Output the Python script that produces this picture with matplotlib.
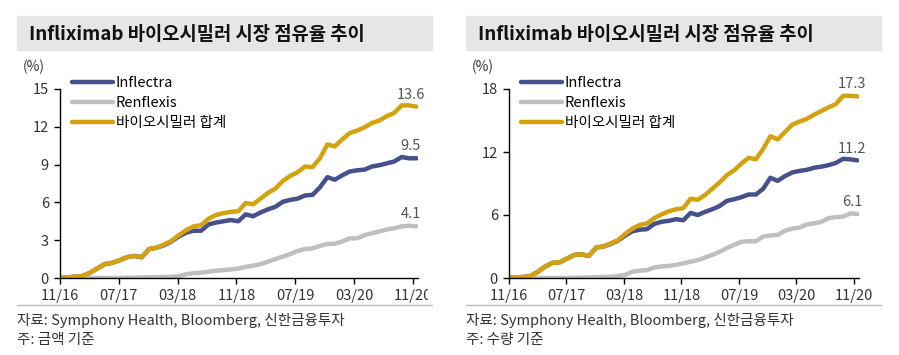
import matplotlib

matplotlib.use("Agg")
import matplotlib.pyplot as plt
import numpy as np
from matplotlib.transforms import Bbox, TransformedBbox

plt.rcParams["font.family"] = ["Noto Sans CJK KR", "DejaVu Sans"]

TITLE = "Infliximab 바이오시밀러 시장 점유율 추이"
SERIES = ["Inflectra", "Renflexis", "바이오시밀러 합계"]
XTICK_LABELS = ["11/16", "07/17", "03/18", "11/18", "07/19", "03/20", "11/20"]
SOURCE = "자료: Symphony Health, Bloomberg, 신한금융투자"
NOTES = ["주: 금액 기준", "주: 수량 기준"]

# monthly readings, 11/16 .. 11/20 (49 points)
value_inflectra = [0.0, 0.05, 0.1, 0.15, 0.4, 0.75, 1.1, 1.2, 1.4, 1.65, 1.75, 1.65, 2.3, 2.4,
                   2.6, 2.9, 3.3, 3.6, 3.75, 3.75, 4.25, 4.4, 4.5, 4.6, 4.5, 5.05, 4.9, 5.2,
                   5.45, 5.65, 6.05, 6.2, 6.3, 6.55, 6.6, 7.2, 8.0, 7.8, 8.15, 8.45, 8.55, 8.6,
                   8.85, 8.95, 9.1, 9.25, 9.6, 9.5, 9.5]
value_renflexis = [0, 0, 0, 0, 0, 0, 0, 0, 0, 0.02, 0.03, 0.05, 0.06, 0.07, 0.08, 0.1, 0.15,
                   0.3, 0.38, 0.42, 0.5, 0.58, 0.62, 0.68, 0.75, 0.88, 0.98, 1.1, 1.3, 1.5, 1.7,
                   1.9, 2.15, 2.3, 2.35, 2.55, 2.7, 2.72, 2.9, 3.15, 3.15, 3.4, 3.55, 3.7, 3.85,
                   3.95, 4.1, 4.15, 4.1]
value_total = [0.0, 0.05, 0.1, 0.15, 0.4, 0.75, 1.1, 1.2, 1.4, 1.65, 1.75, 1.65, 2.3, 2.4, 2.65,
               2.95, 3.4, 3.8, 4.1, 4.2, 4.7, 5.0, 5.15, 5.25, 5.3, 5.95, 5.85, 6.3, 6.75, 7.1,
               7.7, 8.1, 8.4, 8.85, 8.8, 9.5, 10.6, 10.45, 11.0, 11.5, 11.7, 11.95, 12.3, 12.5,
               12.85, 13.1, 13.7, 13.7, 13.6]

volume_inflectra = [0.0, 0.05, 0.1, 0.2, 0.6, 1.1, 1.45, 1.5, 1.85, 2.2, 2.25, 2.1, 2.9, 3.0,
                    3.25, 3.55, 4.05, 4.45, 4.6, 4.65, 5.15, 5.35, 5.45, 5.6, 5.5, 6.2, 6.0, 6.3,
                    6.55, 6.85, 7.35, 7.5, 7.7, 7.95, 7.95, 8.5, 9.55, 9.25, 9.7, 10.05, 10.2,
                    10.3, 10.5, 10.6, 10.75, 10.95, 11.35, 11.3, 11.2]
volume_renflexis = [0, 0, 0, 0, 0, 0, 0, 0, 0, 0.02, 0.04, 0.06, 0.08, 0.1, 0.12, 0.18, 0.3, 0.6,
                    0.7, 0.75, 1.0, 1.1, 1.15, 1.25, 1.4, 1.55, 1.7, 1.95, 2.2, 2.5, 2.85, 3.15,
                    3.45, 3.5, 3.5, 3.95, 4.05, 4.1, 4.5, 4.7, 4.8, 5.1, 5.2, 5.35, 5.7, 5.8,
                    5.85, 6.15, 6.1]
volume_total = [0.0, 0.05, 0.1, 0.2, 0.6, 1.1, 1.45, 1.5, 1.85, 2.2, 2.25, 2.1, 2.9, 3.0, 3.3,
                3.6, 4.2, 4.7, 5.05, 5.2, 5.7, 6.05, 6.35, 6.55, 6.65, 7.55, 7.45, 7.9, 8.5, 9.1,
                9.8, 10.25, 10.9, 11.45, 11.3, 12.3, 13.5, 13.2, 13.9, 14.6, 14.9, 15.15, 15.55,
                15.9, 16.25, 16.55, 17.35, 17.35, 17.3]

COLORS = ["#45508C", "#BFBFBF", "#D4A20E"]
W, H = 899, 355


def fx(px):
    return px / W


def fy(py):
    return 1 - py / H


fig = plt.figure(figsize=(W / 100, H / 100), dpi=100)

panels = [
    dict(x0=17, x1=432, ax_l=60, ax_r=418, series=[value_inflectra, value_renflexis, value_total],
         ymax=15, ystep=3, note=NOTES[0], crop=True),
    dict(x0=466, x1=881, ax_l=509, ax_r=859, series=[volume_inflectra, volume_renflexis, volume_total],
         ymax=18, ystep=6, note=NOTES[1], crop=False),
]

for p in panels:
    # title bar
    fig.patches.append(plt.Rectangle((fx(p["x0"]), fy(50)), fx(p["x1"] - p["x0"]), 34 / H,
                                     transform=fig.transFigure, color="#E6E6E6", zorder=0))
    fig.text(fx(p["x0"] + 12), fy(34), TITLE, fontsize=13.5, color="#111111",
             va="center", ha="left", weight="bold")

    ax = fig.add_axes([fx(p["ax_l"]), fy(278), fx(p["ax_r"] - p["ax_l"]), (278 - 89) / H])
    n = len(p["series"][0])
    x = np.linspace(0, 48.5, n)
    for vals, c, name in zip(p["series"], COLORS, SERIES):
        ax.plot(x, vals, color=c, lw=3.2, solid_capstyle="round", label=name)
    for vals in p["series"]:
        ax.annotate(f"{vals[-1]:.1f}", (x[-1], vals[-1]), xytext=(-4, 3.5),
                    textcoords="offset points", ha="center", va="bottom",
                    fontsize=10.5, color="#555555")

    ax.set_xlim(0, 48.7)
    ax.set_ylim(0, p["ymax"])
    ax.set_yticks(np.arange(0, p["ymax"] + 1, p["ystep"]))
    ticks = np.arange(0, 49, 8)
    ax.set_xticks(ticks)
    labels = list(XTICK_LABELS)
    if p["crop"]:
        labels[-1] = ""
    ax.set_xticklabels(labels)
    for s in ("top", "right"):
        ax.spines[s].set_visible(False)
    for s in ("left", "bottom"):
        ax.spines[s].set_linewidth(1.0)
    ax.tick_params(direction="out", length=4, width=1, labelsize=10.5, labelcolor="#333333",
                   pad=4)
    ax.patch.set_alpha(0)

    if p["crop"]:
        # the source image is cut off at the panel's right edge
        t = ax.annotate(XTICK_LABELS[-1], (ticks[-1], 0), xycoords=ax.get_xaxis_transform(),
                        xytext=(0, -8), textcoords="offset points", ha="center", va="top",
                        fontsize=10.5, color="#333333", annotation_clip=False)
        t.set_clip_box(TransformedBbox(Bbox([[0, 0], [fx(428), 1]]), fig.transFigure))
        t.set_clip_on(True)

    ax.legend(loc="upper left", bbox_to_anchor=(fx(p["ax_l"] + 12), fy(76)),
              bbox_transform=fig.transFigure, frameon=False, fontsize=10.5,
              handlelength=2.8, handletextpad=0.2, labelspacing=0.42, borderpad=0,
              borderaxespad=0)

    fig.text(fx(p["ax_l"] - 37), fy(67), "(%)", fontsize=10, color="#333333", va="center")

    # footer
    fig.add_artist(plt.Line2D([fx(p["x0"]), fx(p["x1"])], [fy(305), fy(305)],
                              transform=fig.transFigure, color="#BBBBBB", lw=1))
    fig.text(fx(p["x0"]), fy(320), SOURCE, fontsize=10.5, color="#333333", va="center")
    fig.text(fx(p["x0"]), fy(340), p["note"], fontsize=10.5, color="#333333", va="center")

fig.savefig("out.png", dpi=100)
